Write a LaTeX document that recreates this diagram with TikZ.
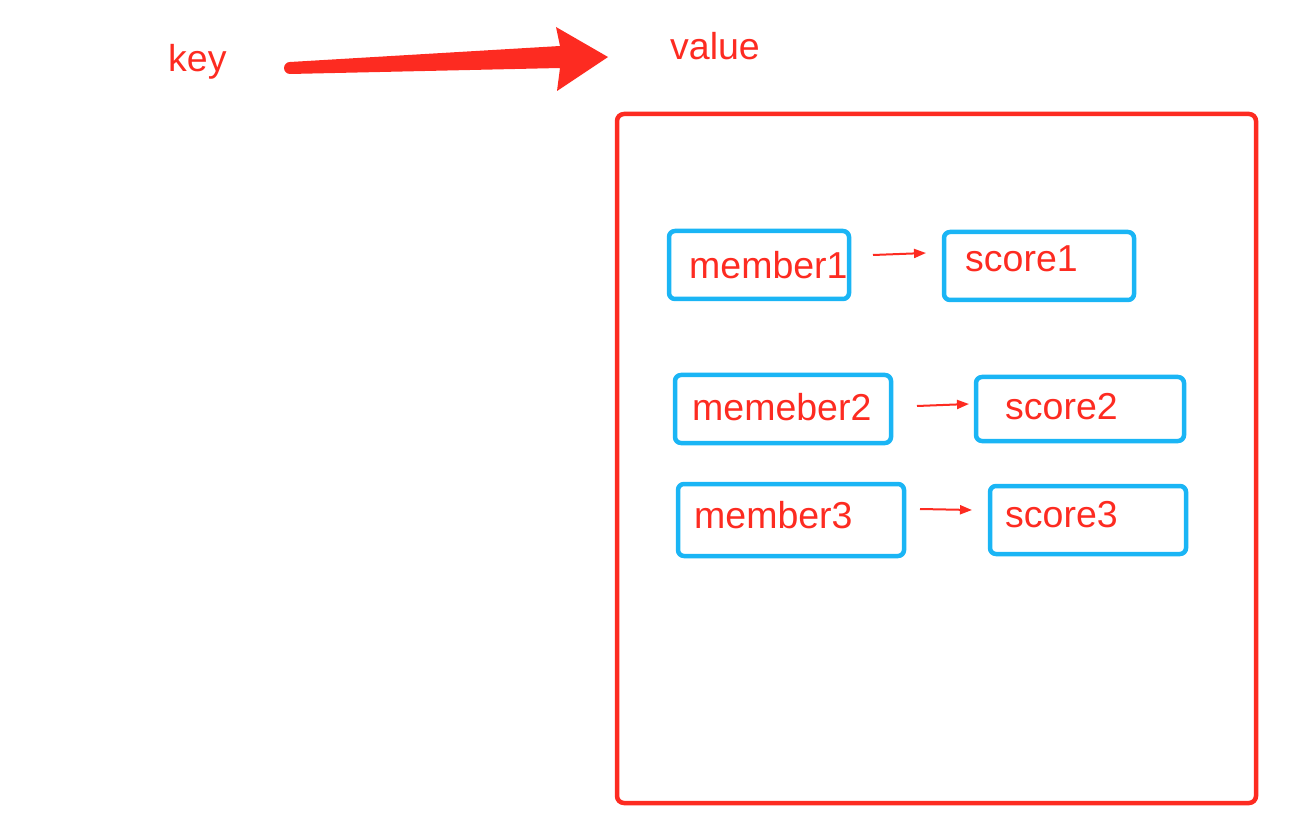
\documentclass[tikz,border=0pt]{standalone}
\usepackage{fontspec}
\setmainfont{Liberation Sans}
\usetikzlibrary{arrows.meta}
\definecolor{rd}{RGB}{253,43,33}
\definecolor{bl}{RGB}{26,181,245}
\tikzset{
  lbl/.style={text=rd, font=\fontsize{37.5}{42}\selectfont, inner sep=0pt, anchor=west},
  bbox/.style={draw=bl, line width=4.5pt, rounded corners=6pt, inner sep=0pt, outer sep=0pt, anchor=north west},
  sarrow/.style={draw=rd, line width=2pt, -{Triangle[length=12pt,width=9pt]}},
  frame/.style={draw=rd, line width=4.5pt, rounded corners=7pt, outer sep=0pt}
}
\begin{document}
\begin{tikzpicture}[x=1pt,y=-1pt]
\useasboundingbox (0,0) rectangle (1294,826);
% big frame
\node[frame, minimum width=639pt, minimum height=689pt, anchor=north west, inner sep=0pt] (frm) at (617,114) {};
% key / value
\node[lbl] (key) at (168,62) {key};
\node[lbl] (val) at (670,46) {value};
\coordinate (bs) at (290,68);
\coordinate (bt) at (608,57);
\fill[rd] (bs) circle (6);
\fill[rd] (290,62) -- (560,46) -- (556,27) -- (bt) -- (557,91) -- (560,68) -- (290,74) -- cycle;
% boxes
\node[bbox, minimum width=180pt, minimum height=68pt] (m1) at (669,231) {};
\node[bbox, minimum width=190pt, minimum height=68pt] (s1) at (944,232) {};
\node[bbox, minimum width=216pt, minimum height=68pt] (m2) at (675,375) {};
\node[bbox, minimum width=208pt, minimum height=64pt] (s2) at (976,377) {};
\node[bbox, minimum width=226pt, minimum height=72pt] (m3) at (678,484) {};
\node[bbox, minimum width=196pt, minimum height=68pt] (s3) at (990,486) {};
% texts
\node[lbl] (t1) at (689,265) {member1};
\node[lbl] (u1) at (965,259) {score1};
\node[lbl] (t2) at (692,407) {memeber2};
\node[lbl] (u2) at (1005,407) {score2};
\node[lbl] (t3) at (694,515) {member3};
\node[lbl] (u3) at (1005,515) {score3};
% small arrows
\draw[sarrow] ([xshift=24pt,yshift=10pt]m1.east) -- ([xshift=-18pt,yshift=13pt]s1.west);
\draw[sarrow] ([xshift=26pt,yshift=3pt]m2.east) -- ([xshift=-7pt,yshift=5pt]s2.west);
\draw[sarrow] ([xshift=16pt,yshift=11pt]m3.east) -- ([xshift=-18pt,yshift=10pt]s3.west);
\end{tikzpicture}
\end{document}
